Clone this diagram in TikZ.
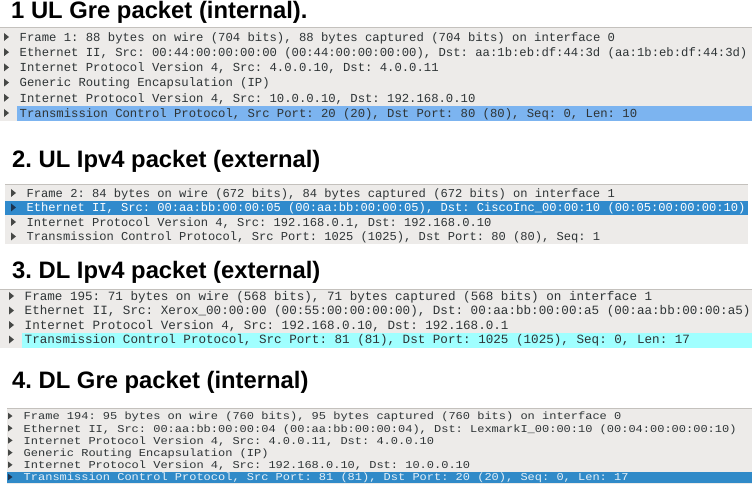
\documentclass[tikz,border=0pt]{standalone}
\usepackage{fontspec}
\setmainfont{Liberation Sans}
\newfontfamily\monof{Liberation Mono}
\definecolor{panelbg}{RGB}{237,235,233}
\definecolor{paneltop}{RGB}{196,193,189}
\definecolor{txtc}{RGB}{46,52,54}
\definecolor{tric}{RGB}{70,72,70}
\definecolor{tridark}{RGB}{28,52,80}
\definecolor{hlone}{RGB}{124,180,240}
\definecolor{hltwo}{RGB}{48,138,204}
\definecolor{hlthree}{RGB}{160,255,255}
\definecolor{hlfour}{RGB}{48,138,200}
\tikzset{
  head/.style={anchor=base west, inner sep=0pt, font=\bfseries\frenchspacing\fontsize{23.8}{26}\selectfont, text=black},
  rowa/.style={anchor=base west, inner sep=0pt, text=txtc, font=\monof\frenchspacing\fontsize{12.25}{14}\selectfont},
  rowb/.style={anchor=base west, inner sep=0pt, text=txtc, font=\monof\frenchspacing\fontsize{12.1}{14}\selectfont},
  rowc/.style={anchor=base west, inner sep=0pt, text=txtc, font=\monof\frenchspacing\fontsize{12.6}{14}\selectfont},
  rowd/.style={anchor=base west, inner sep=0pt, text=txtc, font=\monof\frenchspacing\fontsize{12}{14}\selectfont},
  topline/.style={draw=paneltop, line width=1.5pt},
}
\newcommand{\tri}[3][tric]{\fill[#1] (#2,#3-4) -- (#2,#3+4) -- (#2+5,#3) -- cycle;}
\newcommand{\trism}[3][tric]{\fill[#1] (#2,#3-3.3) -- (#2,#3+3.3) -- (#2+4.5,#3) -- cycle;}
\begin{document}
\begin{tikzpicture}[x=1pt,y=-1pt]
\useasboundingbox (0,0) rectangle (752,486);
\fill[white] (0,0) rectangle (752,486);

% ---------- Section 1 ----------
\node[head] (h1) at (11,19) {1 UL Gre packet (internal).};
\fill[panelbg] (0,27) rectangle (752,121);
\draw[topline] (0,27.5) -- (752,27.5);
\fill[hlone] (17,106) rectangle (752,121);
\tri{4}{37}\tri{4}{52.2}\tri{4}{67.4}\tri{4}{82.6}\tri{4}{97.8}\tri{4}{113}
\node[rowa] (a1) at (19.5,41.3) {Frame 1: 88 bytes on wire (704 bits), 88 bytes captured (704 bits) on interface 0};
\node[rowa] (a2) at (19.5,56.5) {Ethernet II, Src: 00:44:00:00:00:00 (00:44:00:00:00:00), Dst: aa:1b:eb:df:44:3d (aa:1b:eb:df:44:3d)};
\node[rowa] (a3) at (19.5,71.7) {Internet Protocol Version 4, Src: 4.0.0.10, Dst: 4.0.0.11};
\node[rowa] (a4) at (19.5,86.9) {Generic Routing Encapsulation (IP)};
\node[rowa] (a5) at (19.5,102.1) {Internet Protocol Version 4, Src: 10.0.0.10, Dst: 192.168.0.10};
\node[rowa] (a6) at (19.5,117.3) {Transmission Control Protocol, Src Port: 20 (20), Dst Port: 80 (80), Seq: 0, Len: 10};

% ---------- Section 2 ----------
\node[head] (h2) at (12,168) {2. UL Ipv4 packet (external)};
\fill[panelbg] (5,184) rectangle (748,244);
\draw[topline] (5,184.5) -- (748,184.5);
\fill[hltwo] (5,201) rectangle (748,215);
\tri{11}{193}\tri[tridark]{11}{207.5}\tri{11}{222}\tri{11}{236.5}
\node[rowb] (b1) at (26.5,197.2) {Frame 2: 84 bytes on wire (672 bits), 84 bytes captured (672 bits) on interface 1};
\node[rowb, text=white] (b2) at (26.5,211.7) {Ethernet II, Src: 00:aa:bb:00:00:05 (00:aa:bb:00:00:05), Dst: CiscoInc\_00:00:10 (00:05:00:00:00:10)};
\node[rowb] (b3) at (26.5,226.2) {Internet Protocol Version 4, Src: 192.168.0.1, Dst: 192.168.0.10};
\node[rowb] (b4) at (26.5,240.7) {Transmission Control Protocol, Src Port: 1025 (1025), Dst Port: 80 (80), Seq: 1};

% ---------- Section 3 ----------
\node[head] (h3) at (12,279) {3. DL Ipv4 packet (external)};
\fill[panelbg] (0,289) rectangle (752,348);
\draw[topline] (0,289.5) -- (752,289.5);
\fill[hlthree] (22,333) rectangle (752,348);
\tri{9}{296}\tri{9}{310.5}\tri{9}{325}\tri{9}{339.5}
\node[rowc] (c1) at (24.5,300.4) {Frame 195: 71 bytes on wire (568 bits), 71 bytes captured (568 bits) on interface 1};
\node[rowc] (c2) at (24.5,314.9) {Ethernet II, Src: Xerox\_00:00:00 (00:55:00:00:00:00), Dst: 00:aa:bb:00:00:a5 (00:aa:bb:00:00:a5)};
\node[rowc] (c3) at (24.5,329.4) {Internet Protocol Version 4, Src: 192.168.0.10, Dst: 192.168.0.1};
\node[rowc] (c4) at (24.5,343.9) {Transmission Control Protocol, Src Port: 81 (81), Dst Port: 1025 (1025), Seq: 0, Len: 17};

% ---------- Section 4 ----------
\node[head] (h4) at (12,388) {4. DL Gre packet (internal)};
\fill[panelbg] (7,408) rectangle (752,484);
\draw[topline] (7,408.5) -- (752,408.5);
\fill[hlfour] (7,472) rectangle (752,483);
\trism{8}{416}\trism{8}{428.2}\trism{8}{440.4}\trism{8}{452.6}\trism{8}{464.8}\trism[tridark]{8}{477}
\node[rowd] (d1) at (23.5,419.8) {\scalebox{1}[0.88]{Frame 194: 95 bytes on wire (760 bits), 95 bytes captured (760 bits) on interface 0}};
\node[rowd] (d2) at (23.5,432) {\scalebox{1}[0.88]{Ethernet II, Src: 00:aa:bb:00:00:04 (00:aa:bb:00:00:04), Dst: LexmarkI\_00:00:10 (00:04:00:00:00:10)}};
\node[rowd] (d3) at (23.5,444.2) {\scalebox{1}[0.88]{Internet Protocol Version 4, Src: 4.0.0.11, Dst: 4.0.0.10}};
\node[rowd] (d4) at (23.5,456.4) {\scalebox{1}[0.88]{Generic Routing Encapsulation (IP)}};
\node[rowd] (d5) at (23.5,468.6) {\scalebox{1}[0.88]{Internet Protocol Version 4, Src: 192.168.0.10, Dst: 10.0.0.10}};
\node[rowd, text=white!88!hlfour] (d6) at (23.5,480.8) {\scalebox{1}[0.88]{Transmission Control Protocol, Src Port: 81 (81), Dst Port: 20 (20), Seq: 0, Len: 17}};
\end{tikzpicture}
\end{document}
